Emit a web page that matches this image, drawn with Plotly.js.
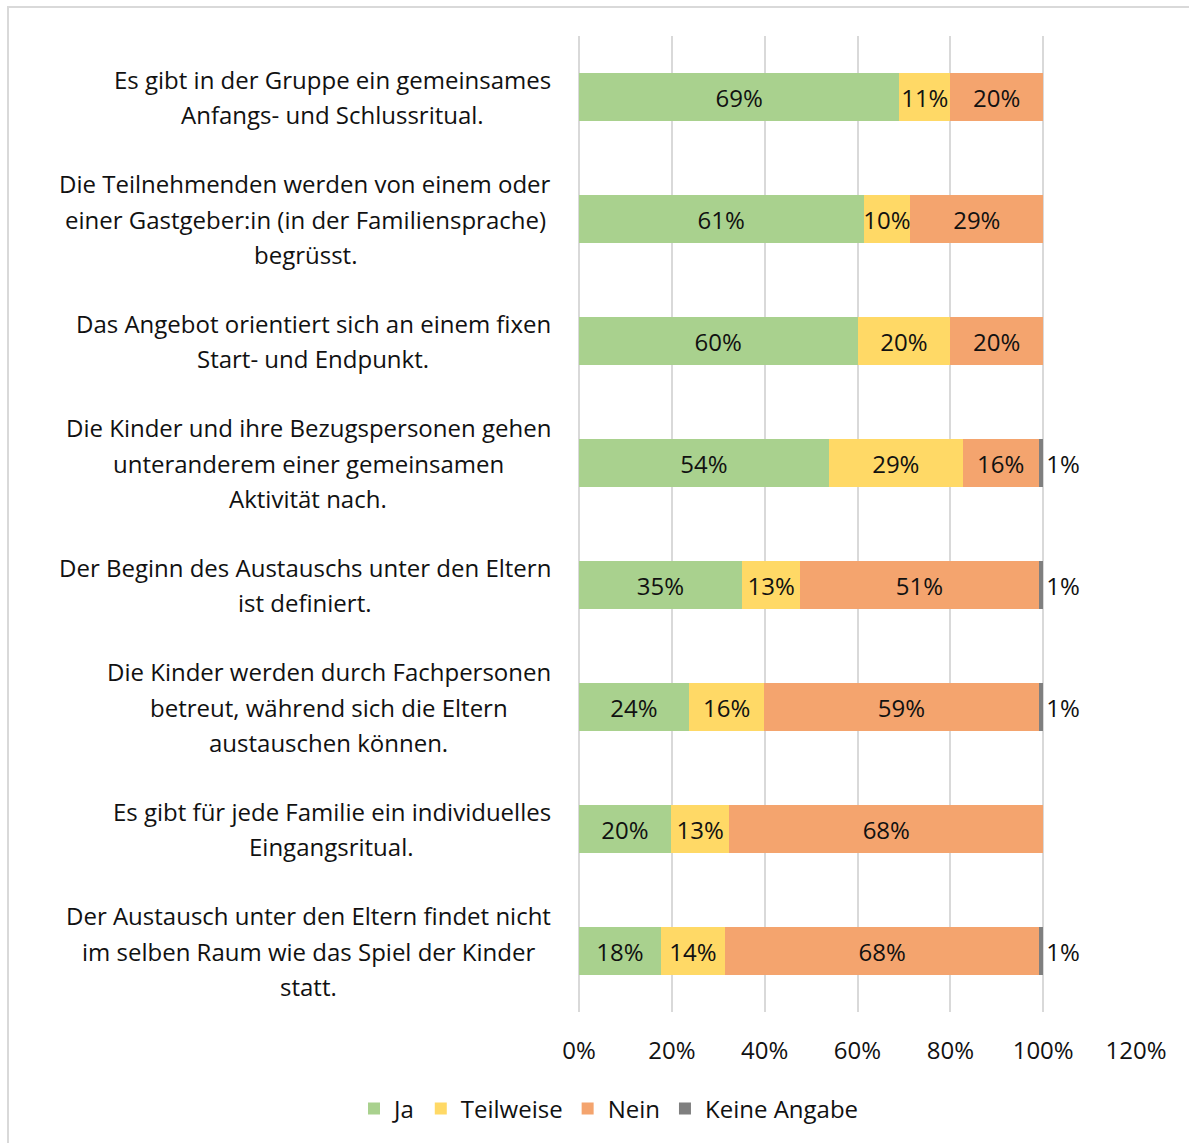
<!DOCTYPE html>
<html>
<head>
<meta charset="utf-8">
<script src="https://cdn.plot.ly/plotly-3.0.1.min.js"></script>
<style>
  html, body { margin: 0; padding: 0; background: #fff; }
  #chart { width: 1189px; height: 1143px; }
</style>
</head>
<body>
<div id="chart"></div>
<script>
// ---- Data (top to bottom) ----
const categories = [
  "Es gibt in der Gruppe ein gemeinsames<br>Anfangs- und Schlussritual.",
  "Die Teilnehmenden werden von einem oder<br>einer Gastgeber:in (in der Familiensprache)<br>begrüsst.",
  "Das Angebot orientiert sich an einem fixen<br>Start- und Endpunkt.",
  "Die Kinder und ihre Bezugspersonen gehen<br>unteranderem einer gemeinsamen<br>Aktivität nach.",
  "Der Beginn des Austauschs unter den Eltern<br>ist definiert.",
  "Die Kinder werden durch Fachpersonen<br>betreut, während sich die Eltern<br>austauschen können.",
  "Es gibt für jede Familie ein individuelles<br>Eingangsritual.",
  "Der Austausch unter den Eltern findet nicht<br>im selben Raum wie das Spiel der Kinder<br>statt."
];
const seriesNames = ["Ja", "Teilweise", "Nein", "Keine Angabe"];
const ja        = [69.0, 61.3, 60.0, 53.8, 35.1, 23.7, 19.8, 17.6];
const teilweise = [11.0, 10.1, 20.0, 28.9, 12.6, 16.2, 12.6, 13.9];
const nein      = [20.0, 28.6, 20.0, 16.3, 51.3, 59.1, 67.6, 67.6];
const keineAngabe = [null, null, null, 1.0, 1.0, 1.0, null, 0.9];
const xTicks = [0, 20, 40, 60, 80, 100, 120];

// ---- Layout constants ----
const W = 1189, H = 1143;
const M = { l: 579, r: 53, t: 36, b: 131 };
const PW = W - M.l - M.r, PH = H - M.t - M.b;
const FONT_NAME = "Open Sans";
const FONT = "'Open Sans', sans-serif";
const FS = 24;
const TXT = "#111";
const colors = ["#A9D18E", "#FFD966", "#F4A46E", "#7F7F7F"];
const values = [ja, teilweise, nein, keineAngabe];

const traces = values.map((v, i) => ({
  type: "bar",
  orientation: "h",
  name: seriesNames[i],
  y: categories,
  x: v,
  marker: { color: colors[i], line: { width: 0 } },
  texttemplate: "%{x:.0f}%",
  textposition: i === 3 ? "outside" : "inside",
  insidetextanchor: "middle",
  textangle: 0,
  constraintext: "none",
  cliponaxis: false,
  textfont: { family: FONT, size: FS, color: TXT },
  hoverinfo: "skip"
}));

// ---- category labels (centered lines, block right-aligned) ----
const canvas = document.createElement("canvas");
const ctx = canvas.getContext("2d");
ctx.font = FS + "px '" + FONT_NAME + "'";
const LINE_H = 35.5;
const labelRight = 551;
const annotations = [];
categories.forEach(cat => {
  const lines = cat.split("<br>");
  const maxW = Math.max(...lines.map(s => ctx.measureText(s).width));
  const cx = labelRight - maxW / 2;
  const n = lines.length;
  lines.forEach((line, j) => {
    annotations.push({
      xref: "paper", yref: "y",
      x: (cx - M.l) / PW, y: cat,
      xanchor: "center", yanchor: "middle",
      yshift: -((j - (n - 1) / 2) * LINE_H),
      text: line, showarrow: false,
      font: { family: FONT, size: FS, color: TXT }
    });
  });
});

const layout = {
  width: W, height: H,
  margin: M,
  paper_bgcolor: "#fff", plot_bgcolor: "#fff",
  barmode: "stack",
  bargap: 0.61,
  showlegend: true,
  legend: {
    orientation: "h", traceorder: "normal",
    x: (609 - M.l) / PW, xanchor: "center",
    y: (M.t + PH - 1109) / PH, yanchor: "middle",
    yref: "paper",
    font: { family: FONT, size: FS, color: TXT },
    itemwidth: 30
  },
  xaxis: {
    range: [0, 120],
    tickvals: xTicks,
    ticktext: xTicks.map(t => t + "%"),
    showgrid: true, gridcolor: "#d9d9d9", gridwidth: 2,
    zeroline: true, zerolinecolor: "#d9d9d9", zerolinewidth: 2,
    showline: false,
    ticks: "", ticklabelstandoff: 22,
    tickfont: { family: FONT, size: FS, color: TXT },
    fixedrange: true
  },
  yaxis: {
    type: "category",
    categoryorder: "array", categoryarray: categories,
    autorange: "reversed",
    showticklabels: false, showgrid: false, zeroline: false, ticks: "",
    fixedrange: true
  },
  annotations: annotations,
  shapes: [{
    type: "rect", xref: "paper", yref: "paper", layer: "below",
    x0: (8 - M.l) / PW, x1: (W + 20 - M.l) / PW,
    y0: (M.t + PH - (H + 20)) / PH, y1: (M.t + PH - 7) / PH,
    line: { color: "#d9d9d9", width: 2 }, fillcolor: "rgba(0,0,0,0)"
  }]
};

Plotly.newPlot("chart", traces, layout, { displayModeBar: false, staticPlot: true });
</script>
</body>
</html>
